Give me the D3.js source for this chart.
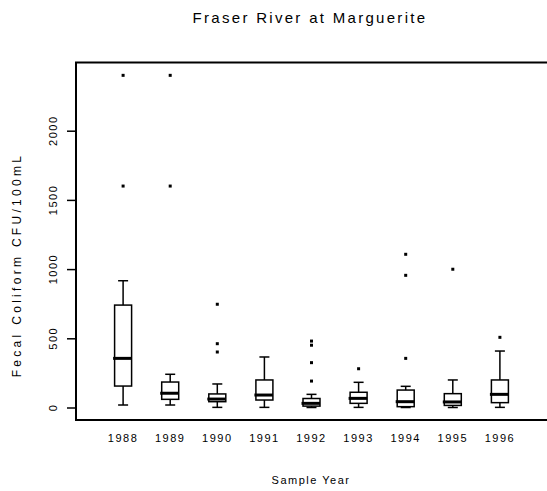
<!DOCTYPE html>
<html>
<head>
    <title>Fraser River at Marguerite</title>
    <style>
        body { margin: 0; background: #fff; }
        text { font-family: "Liberation Sans", Arial, sans-serif; fill: #000; }
    </style>
    <script src="https://d3js.org/d3.v7.min.js"></script>
</head>
<body>
    <div id="chart"></div>

    <script>
        // box plot summaries
        var years = ['1988', '1989', '1990', '1991', '1992', '1993', '1994', '1995', '1996'];
        var upperWhisker = [916, 240, 170, 365, 95, 182, 153, 199, 408];
        var q3 = [740, 184, 98, 199, 65, 110, 126, 100, 199];
        var median = [355, 103, 61, 90, 30, 66, 42, 40, 95];
        var q1 = [155, 59, 42, 54, 10, 30, 6, 15, 35];
        var lowerWhisker = [18, 18, 1, 1, 0, 1, 0, 0, 1];
        var outliers = [
            [2400, 1600],
            [2400, 1600],
            [746, 461, 401],
            [],
            [480, 450, 324, 191],
            [280],
            [1107, 955, 355],
            [999],
            [507]
        ];
        var yTicks = [0, 500, 1000, 1500, 2000];

        var width = 547, height = 491;
        var plotLeft = 76, plotTop = 62.5, plotBottom = 420;

        var svg = d3.select('#chart').append('svg')
            .attr('width', width)
            .attr('height', height);

        var xScale = d3.scaleLinear()
            .domain([0, years.length + 1])
            .range([plotLeft, width]);

        var yScale = d3.scaleLinear()
            .domain([0, 2000])
            .range([407.5, 130.7]);

        // frame: left, top and bottom only
        svg.append('path')
            .attr('d', 'M' + width + ',' + plotTop + 'H' + plotLeft + 'V' + plotBottom + 'H' + width)
            .attr('fill', 'none')
            .attr('stroke', '#000')
            .attr('stroke-width', 2);

        // y axis
        var yAxis = d3.axisLeft(yScale)
            .tickValues(yTicks)
            .tickSize(9)
            .tickFormat('');
        var yg = svg.append('g')
            .attr('transform', 'translate(' + plotLeft + ',0)')
            .call(yAxis);
        yg.select('.domain').remove();
        yg.selectAll('line').attr('stroke', '#000').attr('stroke-width', 1.5);

        svg.selectAll('.ytick-label')
            .data(yTicks)
            .enter()
            .append('text')
            .attr('class', 'ytick-label')
            .attr('transform', function(d) { return 'translate(57,' + yScale(d) + ') rotate(-90)'; })
            .attr('text-anchor', 'middle')
            .style('font-size', '11px')
            .style('letter-spacing', '1.5px')
            .text(function(d) { return d; });

        // x labels
        svg.selectAll('.xtick-label')
            .data(years)
            .enter()
            .append('text')
            .attr('class', 'xtick-label')
            .attr('x', function(d, i) { return xScale(i + 1); })
            .attr('y', 442)
            .attr('text-anchor', 'middle')
            .style('font-size', '11px')
            .style('letter-spacing', '1.5px')
            .text(function(d) { return d; });

        // boxes
        var boxW = 17, capW = 10, medW = 20;
        var g = svg.selectAll('.box')
            .data(years)
            .enter()
            .append('g')
            .attr('class', 'box');

        g.append('line')
            .attr('x1', function(d, i) { return xScale(i + 1); })
            .attr('x2', function(d, i) { return xScale(i + 1); })
            .attr('y1', function(d, i) { return yScale(upperWhisker[i]); })
            .attr('y2', function(d, i) { return yScale(lowerWhisker[i]); })
            .attr('stroke', '#000')
            .attr('stroke-width', 1.5);

        g.append('rect')
            .attr('x', function(d, i) { return xScale(i + 1) - boxW / 2; })
            .attr('y', function(d, i) { return yScale(q3[i]); })
            .attr('width', boxW)
            .attr('height', function(d, i) { return yScale(q1[i]) - yScale(q3[i]); })
            .attr('fill', '#fff')
            .attr('stroke', '#000')
            .attr('stroke-width', 1.5);

        [upperWhisker, lowerWhisker].forEach(function(arr) {
            g.append('line')
                .attr('x1', function(d, i) { return xScale(i + 1) - capW / 2; })
                .attr('x2', function(d, i) { return xScale(i + 1) + capW / 2; })
                .attr('y1', function(d, i) { return yScale(arr[i]); })
                .attr('y2', function(d, i) { return yScale(arr[i]); })
                .attr('stroke', '#000')
                .attr('stroke-width', 1.5);
        });

        g.append('line')
            .attr('x1', function(d, i) { return xScale(i + 1) - medW / 2; })
            .attr('x2', function(d, i) { return xScale(i + 1) + boxW / 2; })
            .attr('y1', function(d, i) { return yScale(median[i]); })
            .attr('y2', function(d, i) { return yScale(median[i]); })
            .attr('stroke', '#000')
            .attr('stroke-width', 3);

        g.selectAll('.outlier')
            .data(function(d, i) { return outliers[i].map(function(v) { return { i: i, v: v }; }); })
            .enter()
            .append('rect')
            .attr('class', 'outlier')
            .attr('x', function(d) { return xScale(d.i + 1) - 1.5; })
            .attr('y', function(d) { return yScale(d.v) - 1.5; })
            .attr('width', 3)
            .attr('height', 3)
            .attr('fill', '#000');

        // titles
        svg.append('text')
            .attr('x', 310)
            .attr('y', 23)
            .attr('text-anchor', 'middle')
            .style('font-size', '15px')
            .style('letter-spacing', '2.3px')
            .text('Fraser River at Marguerite');

        svg.append('text')
            .attr('x', 311)
            .attr('y', 484)
            .attr('text-anchor', 'middle')
            .style('font-size', '11px')
            .style('letter-spacing', '1.5px')
            .text('Sample Year');

        svg.append('text')
            .attr('transform', 'translate(21,265) rotate(-90)')
            .attr('text-anchor', 'middle')
            .style('font-size', '12px')
            .style('letter-spacing', '3.3px')
            .text('Fecal Coliform CFU/100mL');
    </script>
</body>
</html>
